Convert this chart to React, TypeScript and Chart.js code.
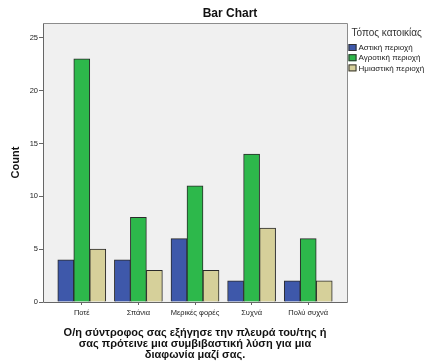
import React, { useEffect, useRef } from "react";
import { Chart, registerables } from "chart.js";

Chart.register(...registerables);

const categories = ["Ποτέ", "Σπάνια", "Μερικές φορές", "Συχνά", "Πολύ συχνά"];
const seriesNames = ["Αστική περιοχή", "Αγροτική περιοχή", "Ημιαστική περιοχή"];
const urban = [4, 4, 6, 2, 2];
const rural = [23, 8, 11, 14, 6];
const semiUrban = [5, 3, 3, 7, 2];
const yTicks = [0, 5, 10, 15, 20, 25];
const chartTitle = "Bar Chart";
const legendTitle = "Τόπος κατοικίας";
const yTitle = "Count";
const xTitle = [
  "Ο/η σύντροφος σας εξήγησε την πλευρά του/της ή",
  "σας πρότεινε μια συμβιβαστική λύση για μια",
  "διαφωνία μαζί σας.",
];

const COLORS = ["#3E58AA", "#2DB84B", "#D6D09A"];
const FONT = "'Liberation Sans', Arial, sans-serif";

const framePlugin = {
  id: "frame",
  beforeDraw(chart: any) {
    const { ctx, chartArea: a } = chart;
    ctx.save();
    ctx.fillStyle = "#F0F0F0";
    ctx.fillRect(a.left, a.top, a.right - a.left, a.bottom - a.top);
    ctx.restore();
  },
  afterDatasetsDraw(chart: any) {
    const { ctx, chartArea: a } = chart;
    ctx.save();
    ctx.lineWidth = 1;
    ctx.strokeStyle = "#8C8C8C";
    ctx.beginPath();
    ctx.moveTo(a.left + 0.5, a.top + 0.5);
    ctx.lineTo(a.right + 0.5, a.top + 0.5);
    ctx.lineTo(a.right + 0.5, a.bottom + 0.5);
    ctx.stroke();
    ctx.strokeStyle = "#666";
    ctx.beginPath();
    ctx.moveTo(a.left + 0.5, a.top + 0.5);
    ctx.lineTo(a.left + 0.5, a.bottom + 0.5);
    ctx.lineTo(a.right + 0.5, a.bottom + 0.5);
    ctx.stroke();
    ctx.restore();
  },
  afterDraw(chart: any) {
    const { ctx, chartArea: a } = chart;
    ctx.save();
    // title
    ctx.fillStyle = "#111";
    ctx.font = `bold 12px ${FONT}`;
    ctx.textAlign = "center";
    ctx.textBaseline = "middle";
    ctx.fillText(chartTitle, 230, 14);
    // legend
    const lx = a.right + 1.5;
    ctx.textAlign = "left";
    ctx.fillStyle = "#333";
    ctx.font = `10px ${FONT}`;
    ctx.fillText(legendTitle, lx + 3, 33.5);
    ctx.font = `8px ${FONT}`;
    seriesNames.forEach((name, i) => {
      const cy = 47.5 + i * 10.2;
      ctx.fillStyle = COLORS[i];
      ctx.fillRect(lx, cy - 3.5, 8, 7);
      ctx.strokeStyle = "#333";
      ctx.lineWidth = 1;
      ctx.strokeRect(lx + 0.5, cy - 3.5 + 0.5, 7, 6);
      ctx.fillStyle = "#222";
      ctx.fillText(name, lx + 10, cy + 0.5);
    });
    ctx.restore();
  },
};

export default function App() {
  const ref = useRef<HTMLCanvasElement>(null);
  useEffect(() => {
    if (!ref.current) return;
    const datasets = [urban, rural, semiUrban].map((d, i) => ({
      label: seriesNames[i],
      data: d,
      backgroundColor: COLORS[i],
      borderColor: "#2A2A2A",
      borderWidth: 1,
      barThickness: 16,
    }));
    const chart = new Chart(ref.current, {
      type: "bar",
      data: { labels: categories, datasets },
      plugins: [framePlugin],
      options: {
        animation: false,
        responsive: false,
        devicePixelRatio: 1,
        layout: { padding: { left: 0, top: 23, right: 78, bottom: 0 } },
        plugins: {
          legend: { display: false },
          title: { display: false },
          tooltip: { enabled: false },
        },
        scales: {
          x: {
            offset: true,
            grid: {
              display: true,
              offset: false,
              drawOnChartArea: false,
              drawTicks: true,
              tickLength: 3,
              color: "#666",
            },
            border: { display: false },
            ticks: {
              color: "#222",
              padding: 3,
              maxRotation: 0,
              autoSkip: false,
              font: { family: FONT, size: 7.5 },
            },
            title: {
              display: true,
              text: xTitle,
              color: "#111",
              font: { family: FONT, size: 11, weight: "bold", lineHeight: 1.0 },
              padding: { top: 0, bottom: 2.5 },
            },
            afterBuildTicks(scale: any) {
              scale._startValue = -0.685;
              scale._valueRange = 5.37;
            },
            afterFit(scale: any) {
              scale.height = 61;
            },
          },
          y: {
            min: 0,
            max: 26.4,
            grid: {
              display: true,
              drawOnChartArea: false,
              drawTicks: true,
              tickLength: 4,
              color: "#666",
            },
            border: { display: false },
            ticks: {
              color: "#222",
              padding: 1,
              includeBounds: false,
              font: { family: FONT, size: 7.5 },
            },
            afterBuildTicks(scale: any) {
              scale.ticks = yTicks.map((v) => ({ value: v }));
            },
            title: {
              display: true,
              text: yTitle,
              color: "#111",
              font: { family: FONT, size: 11, weight: "bold" },
              padding: { top: 9.5, bottom: 0 },
            },
            afterFit(scale: any) {
              scale.width = 43;
            },
          },
        },
      } as any,
    });
    return () => chart.destroy();
  }, []);
  return (
    <div style={{ position: "fixed", left: 0, top: 0, width: 425, height: 363, background: "#fff" }}>
      <canvas ref={ref} width={425} height={363} style={{ width: 425, height: 363, display: "block" }} />
    </div>
  );
}
